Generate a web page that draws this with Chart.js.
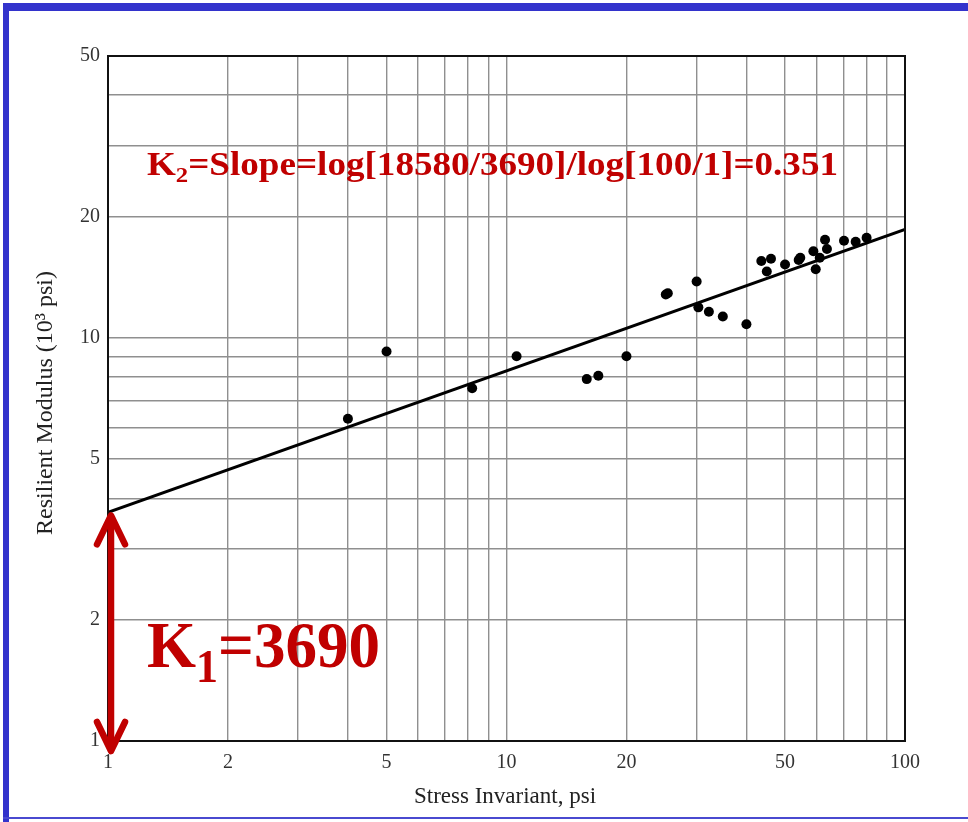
<!DOCTYPE html>
<html>
<head>
<meta charset="utf-8">
<script src="https://cdn.jsdelivr.net/npm/chart.js@4/dist/chart.umd.min.js"></script>
<style>
  html, body { margin: 0; padding: 0; background: #ffffff; }
  #wrap { position: relative; width: 968px; height: 822px; }
  canvas { position: absolute; left: 0; top: 0; }
</style>
</head>
<body>
<div id="wrap"><canvas id="c" width="968" height="822"></canvas></div>
<script>
// ---- data ----
const stressInvariant = [4, 5, 8.2, 10.6, 15.9, 17.0, 20, 25.1, 25.4, 30, 30.3, 32.2, 34.9, 40,
  43.6, 46.1, 45.0, 50, 54.1, 54.6, 58.9, 59.7, 61.1, 63.0, 63.7, 70.3, 75.2, 80.1];
const resilientModulus = [6.3, 9.25, 7.5, 9.0, 7.9, 8.05, 9.0, 12.8, 12.9, 13.8, 11.9, 11.6, 11.3, 10.8,
  15.5, 15.7, 14.6, 15.2, 15.6, 15.8, 16.4, 14.8, 15.8, 17.5, 16.6, 17.4, 17.3, 17.7];
const fitX = [1, 100];
const fitY = [3.69, 18.58];
const xGridValues = [1, 2, 3, 4, 5, 6, 7, 8, 9, 10, 20, 30, 40, 50, 60, 70, 80, 90, 100];
const yGridValues = [1, 2, 3, 4, 5, 6, 7, 8, 9, 10, 20, 30, 40, 50];
const xTickLabels = [1, 2, 5, 10, 20, 50, 100];
const yTickLabels = [1, 2, 5, 10, 20, 50];
const xTitle = 'Stress Invariant, psi';
const yTitle = 'Resilient Modulus (10\u00B3 psi)';
const k2Text = ['K', '2', '=Slope=log[18580/3690]/log[100/1]=0.351'];
const k1Text = ['K', '1', '=3690'];

const RED = '#c00000';
const SERIF = '"Liberation Serif", "DejaVu Serif", serif';

function drawSubText(ctx, x, baseline, parts, size, subSize, subDrop, targetWidth) {
  ctx.save();
  ctx.font = 'bold ' + size + 'px ' + SERIF;
  const w1 = ctx.measureText(parts[0]).width;
  const w3 = ctx.measureText(parts[2]).width;
  ctx.font = 'bold ' + subSize + 'px ' + SERIF;
  const w2 = ctx.measureText(parts[1]).width;
  const total = w1 + w2 + w3;
  const sx = targetWidth / total;
  ctx.translate(x, baseline);
  ctx.scale(sx, 1);
  ctx.fillStyle = RED;
  ctx.textBaseline = 'alphabetic';
  ctx.textAlign = 'left';
  ctx.font = 'bold ' + size + 'px ' + SERIF;
  ctx.fillText(parts[0], 0, 0);
  ctx.font = 'bold ' + subSize + 'px ' + SERIF;
  ctx.fillText(parts[1], w1, subDrop);
  ctx.font = 'bold ' + size + 'px ' + SERIF;
  ctx.fillText(parts[2], w1 + w2, 0);
  ctx.restore();
}

const decor = {
  id: 'decor',
  beforeDatasetsDraw(chart) {
    const ctx = chart.ctx;
    drawSubText(ctx, 147, 175, k2Text, 33, 22, 7, 691);
  },
  afterDraw(chart) {
    const ctx = chart.ctx;
    const a = chart.chartArea;
    // plot frame
    ctx.save();
    ctx.strokeStyle = '#111';
    ctx.lineWidth = 2;
    ctx.strokeRect(a.left, a.top, a.right - a.left, a.bottom - a.top);
    ctx.restore();

    // axis titles
    ctx.save();
    ctx.fillStyle = '#222';
    ctx.font = '23px ' + SERIF;
    ctx.textAlign = 'center';
    ctx.textBaseline = 'middle';
    ctx.fillText(xTitle, 505, 797);
    ctx.translate(46, 403);
    ctx.rotate(-Math.PI / 2);
    ctx.font = '24px ' + SERIF;
    ctx.fillText(yTitle, 0, 0);
    ctx.restore();

    // K1 red double arrow from 1 up to the intercept
    const ys = chart.scales.y;
    const xs = chart.scales.x;
    const ax = xs.getPixelForValue(1) + 3;
    const yTop = ys.getPixelForValue(fitY[0]) + 3;
    const yBot = a.bottom + 10;
    ctx.save();
    ctx.strokeStyle = RED;
    ctx.lineWidth = 6.5;
    ctx.lineCap = 'round';
    ctx.lineJoin = 'round';
    ctx.beginPath();
    ctx.moveTo(ax, yTop + 2);
    ctx.lineTo(ax, yBot - 2);
    ctx.stroke();
    ctx.beginPath();
    ctx.moveTo(ax - 14, yTop + 29);
    ctx.lineTo(ax, yTop);
    ctx.lineTo(ax + 14, yTop + 29);
    ctx.stroke();
    ctx.beginPath();
    ctx.moveTo(ax - 14, yBot - 29);
    ctx.lineTo(ax, yBot);
    ctx.lineTo(ax + 14, yBot - 29);
    ctx.stroke();
    ctx.restore();

    drawSubText(ctx, 147, 667, k1Text, 66, 46, 15, 233);

    // blue page frame
    ctx.save();
    ctx.fillStyle = '#3333cc';
    ctx.fillRect(3, 3, 965, 8);
    ctx.fillRect(3, 3, 6, 819);
    ctx.fillStyle = '#4a4ad0';
    ctx.fillRect(3, 817, 965, 2);
    ctx.restore();
  }
};

new Chart(document.getElementById('c'), {
  type: 'scatter',
  data: {
    datasets: [
      {
        label: 'Measured',
        data: stressInvariant.map((v, i) => ({ x: v, y: resilientModulus[i] })),
        pointRadius: 5,
        pointHoverRadius: 5,
        pointBackgroundColor: '#000',
        pointBorderColor: '#000',
        pointBorderWidth: 0,
        showLine: false
      },
      {
        label: 'Fit',
        data: fitX.map((v, i) => ({ x: v, y: fitY[i] })),
        showLine: true,
        borderColor: '#000',
        borderWidth: 3,
        pointRadius: 0,
        fill: false
      }
    ]
  },
  options: {
    responsive: false,
    animation: false,
    devicePixelRatio: 1,
    layout: { padding: { left: 0, right: 63, top: 56, bottom: 0 } },
    plugins: {
      legend: { display: false },
      tooltip: { enabled: false },
      title: { display: false }
    },
    scales: {
      x: {
        type: 'logarithmic',
        min: 1,
        max: 100,
        afterBuildTicks: s => { s.ticks = xGridValues.map(v => ({ value: v })); },
        afterFit: s => { s.height = 81; },
        ticks: {
          autoSkip: false,
          maxRotation: 0,
          padding: 10,
          color: '#333',
          font: { family: SERIF, size: 20 },
          callback: v => xTickLabels.includes(v) ? String(v) : ''
        },
        grid: { color: '#8f8f8f', lineWidth: 1.4, drawTicks: false },
        border: { display: false }
      },
      y: {
        type: 'logarithmic',
        min: 1,
        max: 50,
        afterBuildTicks: s => { s.ticks = yGridValues.map(v => ({ value: v })); },
        afterFit: s => { s.width = 108; },
        ticks: {
          autoSkip: false,
          padding: 8,
          color: '#333',
          font: { family: SERIF, size: 20 },
          callback: v => yTickLabels.includes(v) ? String(v) : ''
        },
        grid: { color: '#8f8f8f', lineWidth: 1.4, drawTicks: false },
        border: { display: false }
      }
    }
  },
  plugins: [decor]
});
</script>
</body>
</html>
